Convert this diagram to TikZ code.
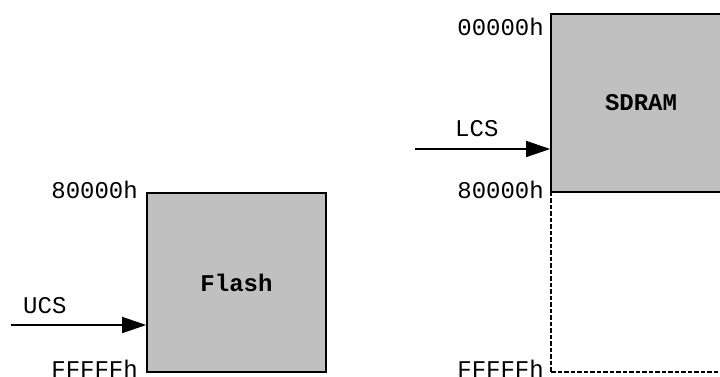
\documentclass[tikz,border=0pt]{standalone}
\usepackage{fontspec}
\setmainfont{Liberation Mono}
\usetikzlibrary{arrows.meta}
\definecolor{memgray}{RGB}{192,192,192}
\tikzset{
  membox/.style={draw=black, line width=1.6pt, fill=memgray, inner sep=0pt, font=\fontsize{24}{28}\selectfont\bfseries},
  emptybox/.style={draw=black, line width=1.5pt, dash pattern=on 4.5pt off 2pt, inner sep=0pt},
  addr/.style={inner sep=0pt, font=\fontsize{24}{28}\selectfont},
  sig/.style={line width=1.5pt, -{Triangle[length=24pt,width=16pt]}},
}
\begin{document}
\begin{tikzpicture}[x=1pt,y=-1pt]
\useasboundingbox (0,0) rectangle (720,376);
\clip (0,0) rectangle (720,376);
% left: Flash
\node[membox, minimum width=179pt, minimum height=179pt] (flash) at (236.5,282.5) {};
\node[membox, draw=none, fill=none, anchor=base] (flashlbl) at (236.5,291) {Flash};
\node[addr, anchor=base east] (fa) at (138,198) {80000h};
\node[addr, anchor=base east] (fb) at (138,377) {FFFFFh};
\coordinate (ucsstart) at (11,325);
\draw[sig] (ucsstart) -- (flash.west |- ucsstart);
\node[addr, anchor=base west] (ucs) at (23,313) {UCS};
% right: SDRAM
\node[emptybox, minimum width=180pt, minimum height=180pt] (empty) at (641,282) {};
\node[membox, minimum width=180pt, minimum height=178pt] (sdram) at (641,103) {};
\node[membox, draw=none, fill=none, anchor=base] (sdramlbl) at (641,110) {SDRAM};
\node[addr, anchor=base east] (sa) at (544,35) {00000h};
\node[addr, anchor=base east] (sb) at (544,198) {80000h};
\node[addr, anchor=base east] (sc) at (544,377) {FFFFFh};
\coordinate (lcsstart) at (415,149);
\draw[sig] (lcsstart) -- (sdram.west |- lcsstart);
\node[addr, anchor=base west] (lcs) at (455,136) {LCS};
\end{tikzpicture}
\end{document}
